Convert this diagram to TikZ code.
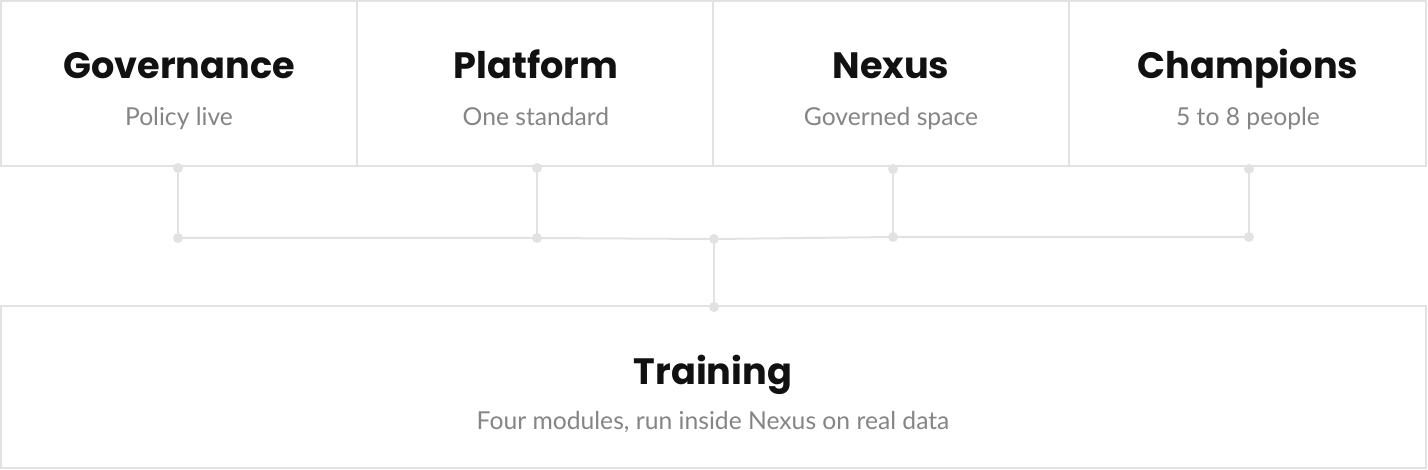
\documentclass[tikz,border=0pt]{standalone}
\usepackage{fontspec}
\setmainfont{Lato}
\newfontfamily\ttlfont{Poppins}
\definecolor{ln}{HTML}{E2E2E2}
\definecolor{sub}{HTML}{858585}
\definecolor{ttl}{HTML}{111111}
\begin{document}
\begin{tikzpicture}[x=0.75pt,y=-0.75pt,
  box/.style={draw=ln,line width=1.5pt,fill=white},
  ttl/.style={font=\ttlfont\fontsize{27.5}{32}\selectfont\bfseries,text=ttl,anchor=base},
  sub/.style={font=\fontsize{18.5}{22}\selectfont,text=sub,anchor=base},
  con/.style={draw=ln,line width=1.5pt},
  dot/.style={circle,fill=ln,inner sep=0pt,minimum size=7.5pt}]
\useasboundingbox (0,0) rectangle (1428,470);
\draw[box] (1,1) rectangle (357,166);
\draw[box] (357,1) rectangle (713,166);
\draw[box] (713,1) rectangle (1069,166);
\draw[box] (1069,1) rectangle (1426,166);
\draw[box] (1,306) rectangle (1426,468);
\node[ttl] (t1) at (179,79) {Governance};
\node[sub] (s1) at (179,126) {Policy live};
\node[ttl] (t2) at (536,79) {Platform};
\node[sub] (s2) at (536,126) {One standard};
\node[ttl] (t3) at (891,79) {Nexus};
\node[sub] (s3) at (891,126) {Governed space};
\node[ttl] (t4) at (1248,79) {Champions};
\node[sub] (s4) at (1248,126) {5 to 8 people};
\node[ttl] (t5) at (713,384) {Training};
\node[sub] (s5) at (713,429) {Four modules, run inside Nexus on real data};
\node[dot] (a1) at (178,168) {}; \node[dot] (b1) at (178,238) {};
\node[dot] (a2) at (537,168) {}; \node[dot] (b2) at (537,238) {};
\node[dot] (a3) at (893,169) {}; \node[dot] (b3) at (893,237) {};
\node[dot] (a4) at (1249,169) {}; \node[dot] (b4) at (1249,237) {};
\node[dot] (c) at (714,239) {}; \node[dot] (d) at (714,307) {};
\draw[con] (a1.center)--(b1.center);
\draw[con] (a2.center)--(b2.center);
\draw[con] (a3.center)--(b3.center);
\draw[con] (a4.center)--(b4.center);
\draw[con] (b1.center)--(b2.center)--(c.center)--(b3.center)--(b4.center);
\draw[con] (c.center)--(d.center);
\end{tikzpicture}
\end{document}
